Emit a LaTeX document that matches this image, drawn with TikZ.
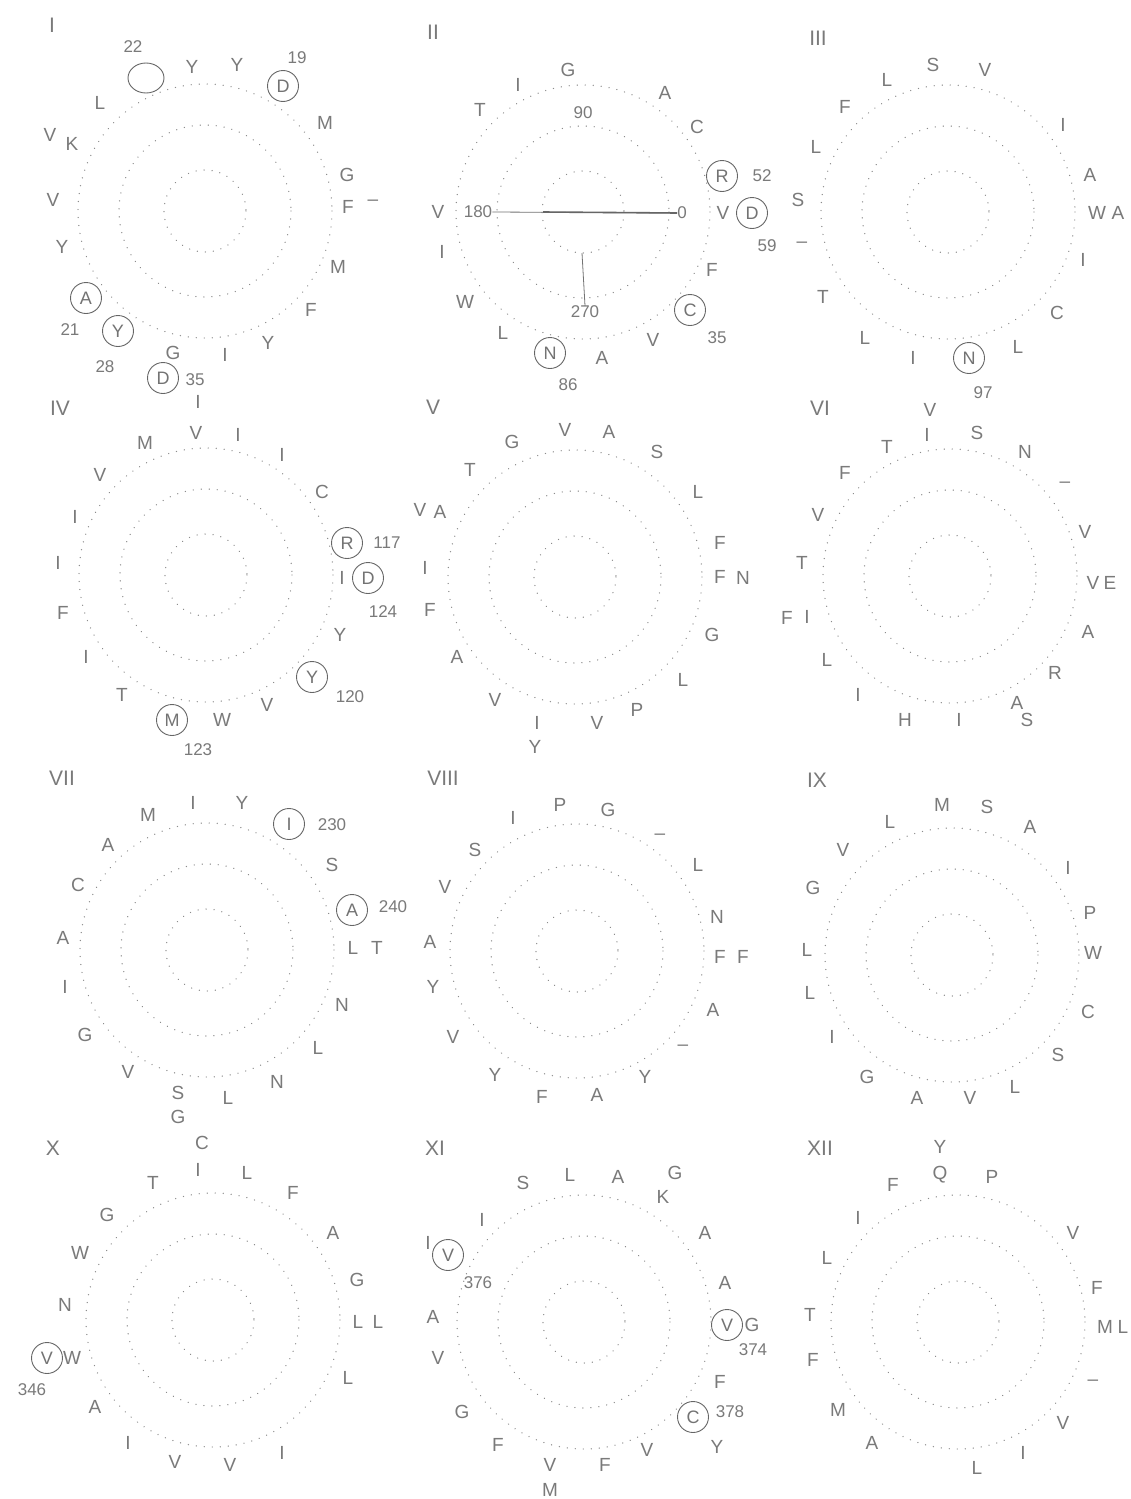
\documentclass[tikz,border=0pt]{standalone}
\usepackage{fontspec}
\setmainfont{Liberation Sans}
\usetikzlibrary{shapes.geometric}
\tikzset{
  res/.style={text=black!52, font=\fontsize{19}{19}\selectfont, inner sep=0pt},
  num/.style={text=black!52, font=\fontsize{17}{17}\selectfont, inner sep=0pt},
  roman/.style={text=black!52, font=\fontsize{21}{21}\selectfont, inner sep=0pt},
  circ/.style={text=black!55, font=\fontsize{18}{18}\selectfont, draw=black!60, line width=0.9pt, circle, minimum size=31pt, inner sep=0pt},
  ring/.style={draw=black!45, line width=1.4pt, dash pattern=on 0.01pt off 8pt, line cap=round},
  axisline/.style={draw=black!55, line width=0.8pt}
}
\newcommand\reslist[2]{\foreach \x/\y/\t [count=\i] in {#2} {\node[res] (#1l\i) at (\x,\y) {\t};}}
\newcommand\numlist[2]{\foreach \x/\y/\t [count=\i] in {#2} {\node[num] (#1n\i) at (\x,\y) {\t};}}
\newcommand\cirlist[2]{\foreach \x/\y/\t [count=\i] in {#2} {\node[circ] (#1c\i) at (\x,\y) {\t};}}
\newcommand\rings[2]{\foreach \r in {127,86,41} {\draw[ring] (#1,#2) circle[radius=\r];}}
\begin{document}
\begin{tikzpicture}[x=1pt,y=-1pt]
\useasboundingbox[fill=white] (0,0) rectangle (1130,1499);
% rings
\rings{205}{211}\rings{583}{212}\rings{948}{212}
\rings{206}{575}\rings{575}{577}\rings{950}{576}
\rings{207}{950}\rings{577}{951}\rings{952}{955}
\rings{213}{1320}\rings{584}{1322}\rings{958}{1322}
% roman numerals
\foreach \x/\y/\t [count=\i] in {52/25/I,433/32/II,818/38/III,60/408/IV,433/407/V,820/408/VI,62/778/VII,443/778/VIII,817/780/IX,53/1148/X,435/1148/XI,820/1148/XII}
  {\node[roman] (rn\i) at (\x,\y) {\t};}
% Panel I
\reslist{a}{192/67/Y,237/65/Y,100/103/L,325/123/M,50/135/V,72/144/K,347/175/G,53/200/V,348/207/F,373/203/–,62/247/Y,338/267/M,311/310/F,268/343/Y,225/355/I,173/353/G}
\numlist{a}{133/47/22,297/58/19,70/330/21,105/367/28,195/380/35}
\cirlist{a}{283/86/D,86/298/A,118/331/Y,163/378/D}
\node[draw=black!60, line width=0.9pt, ellipse, minimum width=36pt, minimum height=30pt, inner sep=0pt] (aempty) at (146,78) {};
% Panel II
\reslist{b}{568/70/G,518/85/I,665/93/A,480/110/T,697/127/C,438/212/V,723/213/V,442/252/I,712/270/F,465/302/W,503/333/L,653/340/V,602/358/A}
\numlist{b}{583/113/90,762/176/52,478/212/180,682/213/0,767/246/59,585/312/270,717/338/35,568/385/86}
\cirlist{b}{722/176/R,752/213/D,690/310/C,550/353/N}
\draw[axisline] (bn3.east) -- (bn4.west);
\coordinate (bh) at (543,212);
\draw[black!60, line width=1.6pt] (bh) -- (bn4.west);
\coordinate (bv) at (582,253);
\draw[axisline] (bv) -- (bn6.north);
% Panel III
\reslist{c}{933/65/S,985/70/V,887/80/L,845/107/F,1063/125/I,816/147/L,1090/175/A,798/200/S,1097/213/W,1118/213/A,802/245/–,1083/260/I,823/297/T,1057/313/C,865/338/L,1018/347/L,913/358/I}
\numlist{c}{983/393/97}
\cirlist{c}{969/358/N}
% Panel IV
\reslist{d}{198/402/I,196/433/V,145/443/M,238/435/I,282/455/I,100/475/V,322/492/C,75/517/I,342/578/I,58/563/I,63/613/F,340/635/Y,86/657/I,122/695/T,267/705/V,222/720/W}
\numlist{d}{387/543/117,383/612/124,350/697/120,198/750/123}
\cirlist{d}{347/543/R,368/578/D,312/677/Y,172/720/M}
% Panel V
\reslist{e}{512/442/G,565/430/V,609/432/A,657/452/S,470/470/T,698/492/L,420/510/V,440/512/A,720/543/F,425/568/I,720/577/F,743/578/N,430/610/F,712/635/G,457/657/A,683/680/L,495/700/V,637/710/P,537/723/I,597/723/V,535/747/Y}
% Panel VI
\reslist{f}{930/410/V,927/435/I,977/433/S,887/447/T,1025/452/N,845/473/F,1065/485/–,818/515/V,1085/532/V,802/563/T,1093/583/V,1110/583/E,787/618/F,807/617/I,1088/632/A,827/660/L,1055/673/R,858/695/I,1017/703/A,1027/720/S,905/720/H,959/720/I}
% Panel VII
\reslist{g}{193/803/I,242/803/Y,148/815/M,108/845/A,332/865/S,78/885/C,63/938/A,353/948/L,377/948/T,65/987/I,342/1005/N,85/1035/G,318/1048/L,128/1072/V,277/1082/N,178/1093/S,228/1098/L,178/1117/G}
\numlist{g}{332/825/230,393/907/240}
\cirlist{g}{289/824/I,352/910/A}
% Panel VIII
\reslist{h}{513/818/I,560/805/P,608/810/G,660/837/–,475/850/S,698/865/L,445/887/V,717/917/N,430/942/A,720/957/F,743/957/F,433/987/Y,713/1010/A,453/1037/V,683/1048/–,495/1075/Y,645/1077/Y,542/1097/F,597/1095/A}
% Panel IX
\reslist{k}{942/805/M,987/807/S,890/822/L,1030/827/A,843/850/V,1068/868/I,813/888/G,1090/913/P,807/950/L,1093/953/W,810/993/L,1088/1012/C,832/1037/I,1058/1055/S,867/1077/G,1015/1087/L,917/1098/A,970/1098/V}
% Panel X
\reslist{m}{202/1143/C,198/1170/I,247/1173/L,153/1183/T,293/1193/F,107/1215/G,333/1233/A,80/1253/W,357/1280/G,65/1305/N,358/1322/L,378/1322/L,72/1358/W,348/1378/L,95/1407/A,128/1443/I,175/1462/V,230/1465/V,282/1453/I}
\numlist{m}{32/1390/346}
\cirlist{m}{47/1358/V}
% Panel XI
\reslist{n}{523/1183/S,570/1175/L,618/1177/A,675/1173/G,663/1197/K,482/1220/I,705/1233/A,428/1243/I,725/1283/A,433/1317/A,752/1325/G,438/1358/V,720/1382/F,462/1412/G,498/1445/F,717/1447/Y,647/1450/V,605/1465/F,550/1465/V,550/1490/M}
\numlist{n}{478/1283/376,753/1350/374,730/1412/378}
\cirlist{n}{448/1255/V,727/1325/V,693/1417/C}
% Panel XII
\reslist{p}{940/1147/Y,940/1175/Q,992/1177/P,893/1185/F,858/1218/I,1073/1233/V,827/1258/L,1097/1288/F,810/1315/T,1105/1327/M,1123/1327/L,813/1360/F,1093/1383/–,838/1410/M,1063/1423/V,872/1443/A,1023/1453/I,977/1468/L}
\end{tikzpicture}
\end{document}
